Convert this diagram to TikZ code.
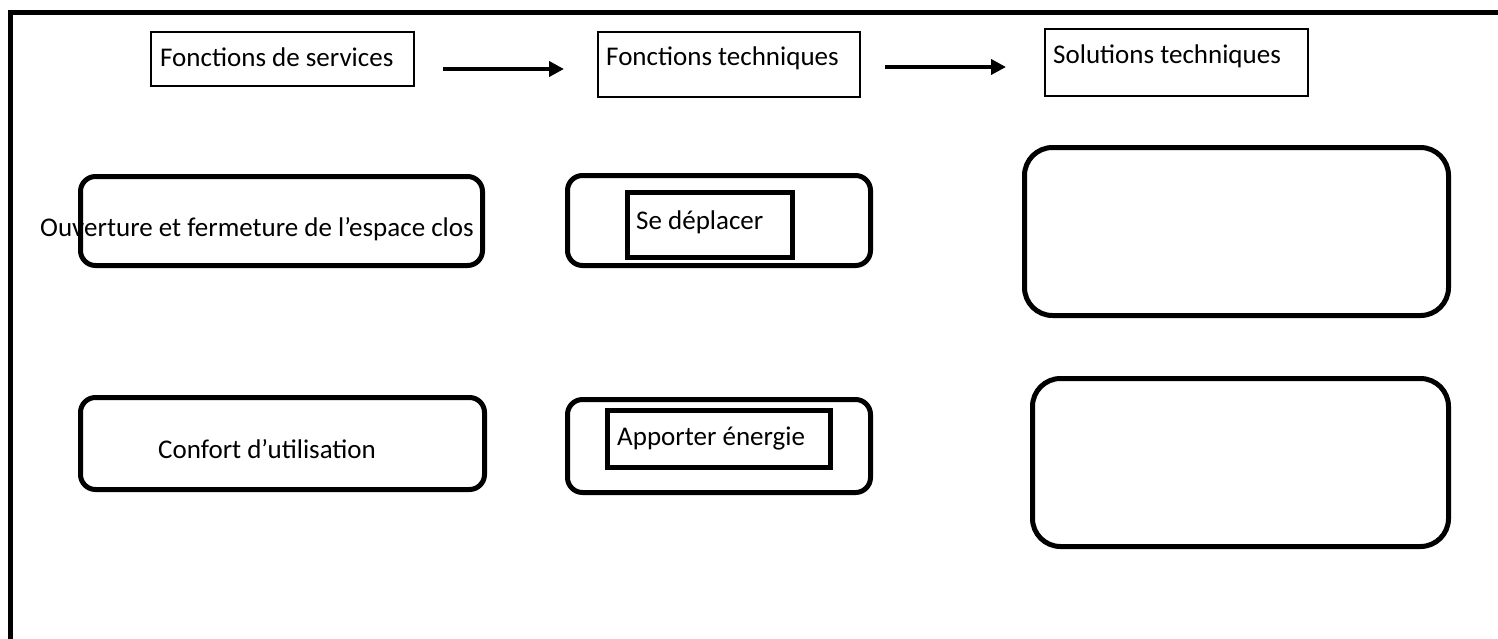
\documentclass[tikz,border=0pt]{standalone}
\usepackage{fontspec}
\setmainfont{Carlito}
\usetikzlibrary{arrows.meta}
\begin{document}
\begin{tikzpicture}[x=1pt,y=-1pt,
  hbox/.style={draw, line width=2pt, inner sep=0pt},
  rbox/.style={draw, line width=5pt, inner sep=0pt, rounded corners=15pt},
  bigbox/.style={draw, line width=5pt, inner sep=0pt, rounded corners=28pt},
  sqbox/.style={draw, line width=5pt, inner sep=0pt},
  lbl/.style={anchor=base west, inner sep=0pt, font=\fontsize{27}{31}\selectfont},
  arr/.style={line width=4.5pt, -{Triangle[length=15pt,width=15pt]}},
  frame/.style={line width=5pt}]
\useasboundingbox (0,0) rectangle (1498,638);
% frame
\coordinate (fb) at (10.5,640);
\coordinate (ftl) at (10.5,12.5);
\coordinate (ftr) at (1500,12.5);
\draw[frame] (fb) -- (ftl) -- (ftr);
% header boxes
\node[hbox, minimum width=263pt, minimum height=54pt] (h1) at (282.5,59) {};
\node[hbox, minimum width=262pt, minimum height=65pt] (h2) at (729,64.5) {};
\node[hbox, minimum width=263pt, minimum height=67pt] (h3) at (1176.5,62.5) {};
\node[lbl] (t1) at (160,66) {Fonctions de services};
\node[lbl] (t2) at (606,65) {Fonctions techniques};
\node[lbl] (t3) at (1053,63) {Solutions techniques};
% arrows
\coordinate (a1s) at (443,69);
\coordinate (a1e) at (564,69);
\coordinate (a2s) at (885,67);
\coordinate (a2e) at (1006,67);
\draw[arr] (a1s) -- (a1e);
\draw[arr] (a2s) -- (a2e);
% row 1
\node[rbox, minimum width=402pt, minimum height=89pt] (l1) at (281.5,221) {};
\node[lbl] (tl1) at (40,236) {Ouverture et fermeture de l’espace clos};
\node[rbox, minimum width=303pt, minimum height=90pt] (m1) at (719,220.5) {};
\node[sqbox, minimum width=165pt, minimum height=65pt] (m1i) at (710,225) {};
\node[lbl] (tm1) at (636,229) {Se déplacer};
\node[bigbox, minimum width=424pt, minimum height=168pt] (r1) at (1236.5,231.5) {};
% row 2
\node[rbox, minimum width=404pt, minimum height=92pt] (l2) at (282.5,443.5) {};
\node[lbl] (tl2) at (158,458) {Confort d’utilisation};
\node[rbox, minimum width=303pt, minimum height=93pt] (m2) at (719,446) {};
\node[sqbox, minimum width=223pt, minimum height=57pt] (m2i) at (719,439) {};
\node[lbl] (tm2) at (617,445) {Apporter énergie};
\node[bigbox, minimum width=416pt, minimum height=168pt] (r2) at (1240.5,462.5) {};
\end{tikzpicture}
\end{document}
